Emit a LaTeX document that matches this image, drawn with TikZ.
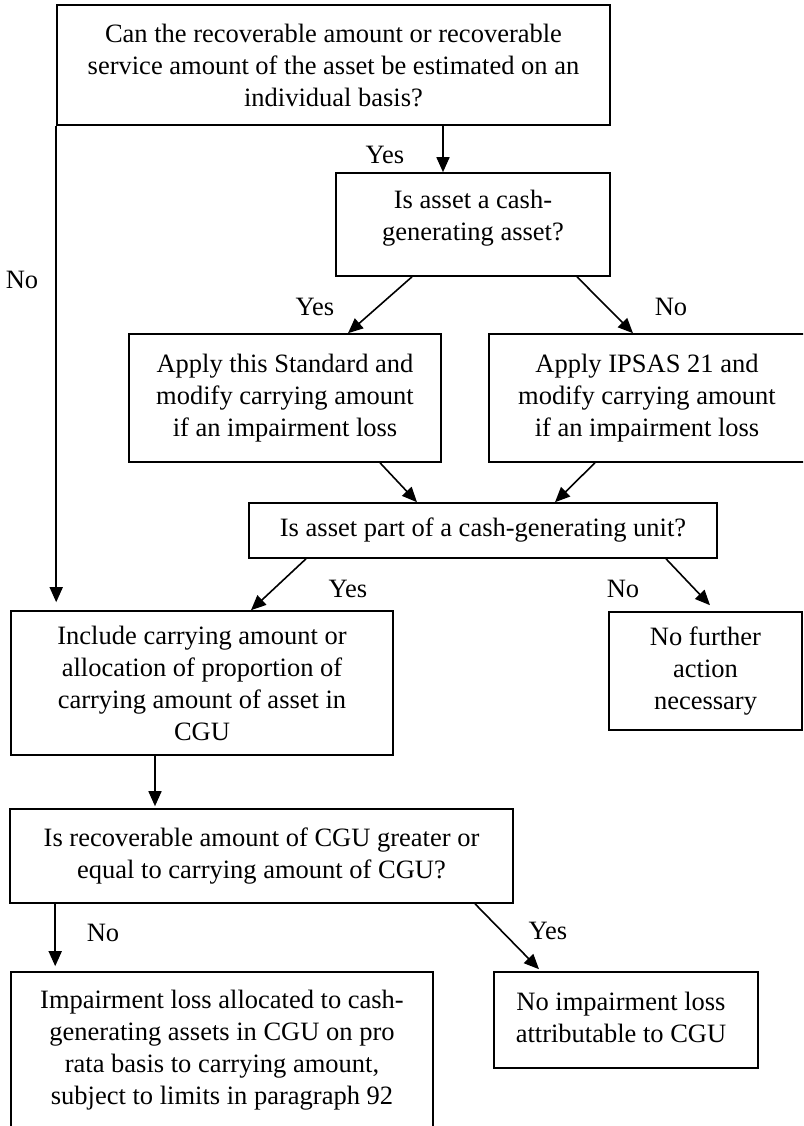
\documentclass[tikz,border=0pt]{standalone}
\usepackage{fontspec}
\setmainfont{Liberation Serif}
\usetikzlibrary{arrows.meta}
\begin{document}
\begin{tikzpicture}[x=1pt,y=-1pt,
  box/.style={draw, line width=1.6pt, fill=white, inner sep=0pt, align=center,
    font=\fontsize{26.5}{32}\selectfont},
  txt/.style={inner sep=0pt, align=center, font=\fontsize{26.5}{32}\selectfont},
  lbl/.style={inner sep=0pt, font=\fontsize{26.5}{32}\selectfont},
  arr/.style={line width=1.6pt, -{Triangle[length=15pt,width=13pt]}}]
\useasboundingbox (0,0) rectangle (803,1126);
\clip (0,0) rectangle (803,1126);
\fill[white] (0,0) rectangle (803,1126);

\node[box, minimum width=553pt, minimum height=120pt] (q1) at (333.5,65)
  {Can the recoverable amount or recoverable\\service amount of the asset be estimated on an\\individual basis?};
\node[box, minimum width=274pt, minimum height=103pt] (q2) at (473,224.5) {};
\node[txt] (q2t) at (473,218) {Is asset a cash-\\generating asset?};
\node[box, minimum width=312pt, minimum height=128pt] (std) at (285,398)
  {Apply this Standard and\\modify carrying amount\\if an impairment loss};
\node[box, minimum width=316pt, minimum height=128pt] (ipsas) at (647,398)
  {Apply IPSAS 21 and\\modify carrying amount\\if an impairment loss};
\node[box, minimum width=468pt, minimum height=55pt] (q3) at (483,530.5)
  {Is asset part of a cash-generating unit?};
\node[box, minimum width=382pt, minimum height=144pt] (incl) at (202,683)
  {Include carrying amount or\\allocation of proportion of\\carrying amount of asset in\\CGU};
\node[box, minimum width=193pt, minimum height=118pt] (nofur) at (705.5,671)
  {No further\\action\\necessary};
\node[box, minimum width=503pt, minimum height=94pt] (q4) at (261.5,856)
  {Is recoverable amount of CGU greater or\\equal to carrying amount of CGU?};
\node[box, minimum width=422pt, minimum height=156pt] (imp) at (222,1050)
  {Impairment loss allocated to cash-\\generating assets in CGU on pro\\rata basis to carrying amount,\\subject to limits in paragraph 92};
\node[box, minimum width=264pt, minimum height=96pt] (noimp) at (626,1020) {};
\node[txt] (noimpt) at (621,1017) {No impairment loss\\attributable to CGU};

% connectors
\draw[arr] ([xshift=-30pt]q2.north |- q1.south) -- ([xshift=-30pt]q2.north);
\draw[arr] (q1.south west) -- ([yshift=8pt]q1.south west |- incl.north);
\draw[arr] ([xshift=-61pt]q2.south) -- ([xshift=63pt]std.north);
\draw[arr] ([xshift=104pt]q2.south) -- ([xshift=-14pt]ipsas.north);
\draw[arr] ([xshift=95pt]std.south) -- ([xshift=-66pt]q3.north);
\draw[arr] ([xshift=-52pt]ipsas.south) -- ([xshift=72pt]q3.north);
\draw[arr] ([xshift=-177pt]q3.south) -- ([xshift=49pt]incl.north);
\draw[arr] ([xshift=183pt]q3.south) -- ([xshift=4.5pt,yshift=6pt]nofur.north);
\draw[arr] ([xshift=-47pt]incl.south) -- ([xshift=-47pt,yshift=2pt]incl.south |- q4.north);
\draw[arr] ([xshift=46pt]q4.south west) -- ([xshift=46pt,yshift=5pt]q4.south west |- imp.north);
\draw[arr] ([xshift=213.5pt]q4.south) -- ([xshift=-87pt,yshift=2pt]noimp.north);

% labels
\node[lbl] (l1) at (22,280) {No};
\node[lbl] (l2) at (385,155) {Yes};
\node[lbl] (l3) at (315,307) {Yes};
\node[lbl] (l4) at (671,307) {No};
\node[lbl] (l5) at (348,589) {Yes};
\node[lbl] (l6) at (623,589) {No};
\node[lbl] (l7) at (103,933) {No};
\node[lbl] (l8) at (548,931) {Yes};
\end{tikzpicture}
\end{document}
